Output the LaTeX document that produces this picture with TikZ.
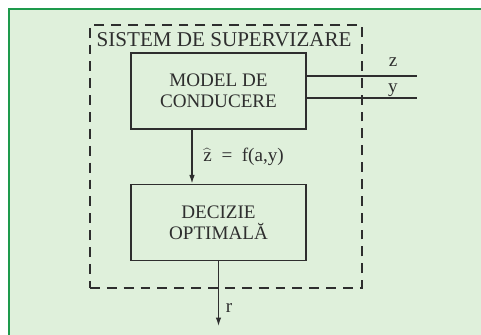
\documentclass[tikz,border=0pt]{standalone}
\usepackage{fontspec}
\setmainfont{Liberation Serif}
\usetikzlibrary{positioning, arrows.meta}
\definecolor{PanelGreen}{HTML}{DFF0DB}
\definecolor{FrameGreen}{HTML}{1E9A4C}
\definecolor{InkGray}{HTML}{2E2E2E}

\begin{document}
\begin{tikzpicture}[
    blockbox/.style={draw=InkGray,line width=1.1pt,text=InkGray,
      minimum width=4.375cm,minimum height=1.9cm,align=center,
      font=\fontsize{13.6}{15}\selectfont},
    wire/.style={draw=InkGray,line width=1.1pt},
    flow/.style={wire,-{Latex[length=2.2mm,width=1.4mm]}},
    tag/.style={text=InkGray,font=\fontsize{13.6}{15}\selectfont}]
\useasboundingbox (0,0) rectangle (12.025,8.375);
\fill[PanelGreen] (0.225,0) rectangle (12.025,8.15);
\draw[FrameGreen,line width=2pt] (0.225,0) -- (0.225,8.15) -- (12.025,8.15);
\node[wire,dash pattern=on 7pt off 5pt,minimum width=6.8cm,minimum height=6.575cm]
    (supervizare) at (5.65,4.4625) {};
\node[anchor=base west,inner sep=0pt,text=InkGray,font=\fontsize{15}{17}\selectfont]
    (titlu) at (2.41,7.2) {SISTEM DE SUPERVIZARE};
\node[blockbox] (model) at (5.4625,6.1) {MODEL DE\\CONDUCERE};
\node[blockbox,below=1.35cm of model] (decizie) {DECIZIE\\OPTIMAL\u{A}};
\coordinate (zcap) at (10.425,6.475);
\coordinate (ycap) at (10.425,5.925);
\coordinate[below=1.625cm of decizie.south] (iesire);
\draw[wire] (model.east |- zcap) -- (zcap);
\draw[wire] (model.east |- ycap) -- (ycap);
\node[tag,anchor=base] (zeticheta) at (9.825,6.7) {z};
\node[tag,anchor=base] (yeticheta) at (9.825,6.05) {y};
\draw[flow] ([xshift=-0.6625cm]model.south) --
    node[tag,right=0.15cm] (functie) {$\widehat{\mbox{z}}$\enspace=\enspace f(a,y)}
    ([xshift=-0.6625cm]decizie.north);
\draw[flow] (decizie.south) -- node[tag,pos=0.72,right=0.05cm] (reticheta) {r} (iesire);
\end{tikzpicture}
\end{document}
